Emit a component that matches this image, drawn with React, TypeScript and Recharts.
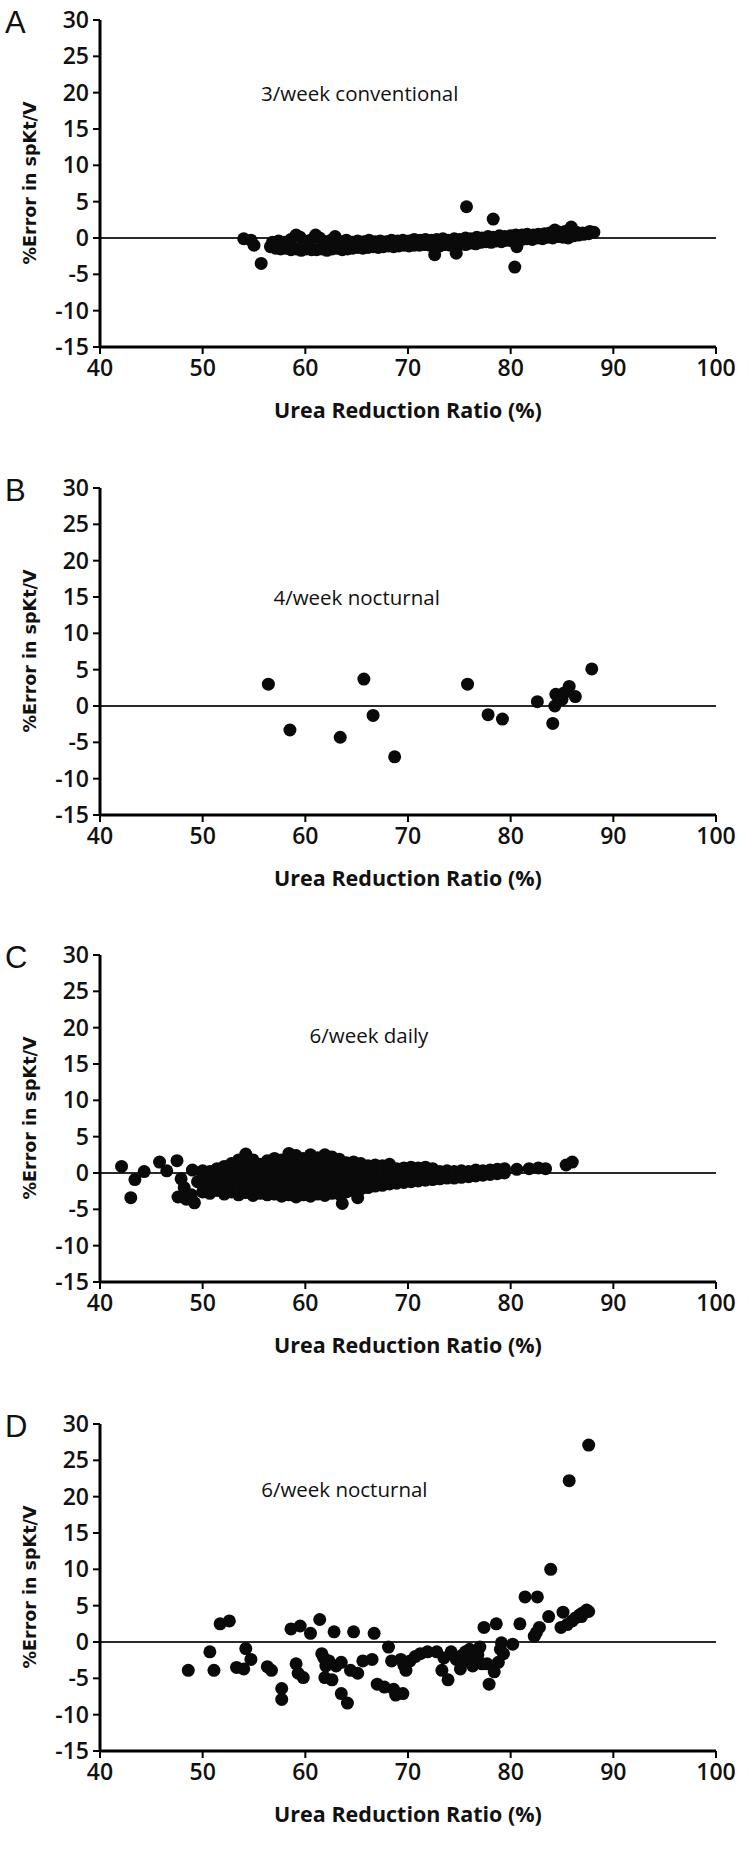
import React from "react";
import {
  ScatterChart,
  Scatter,
  XAxis,
  YAxis,
  ReferenceLine,
  ReferenceDot,
  Label,
} from "recharts";

// axis ticks shared by all four panels
const xTicks = [40, 50, 60, 70, 80, 90, 100];
const yTicks = [-15, -10, -5, 0, 5, 10, 15, 20, 25, 30];

// A: 3/week conventional  [URR %, % error]
const conv3Points: [number, number][] = [
  [54.0, -0.1], [54.7, -0.3], [55.0, -1.0], [55.7, -3.5], [75.7, 4.3], [78.3, 2.6],
  [80.4, -4.0], [72.6, -2.3], [74.7, -2.1],
  [56.6, -1.2], [57.1, -1.4], [57.6, -1.5], [58.1, -1.4], [58.6, -1.6], [59.1, -1.5],
  [59.6, -1.7], [60.1, -1.5], [60.6, -1.6], [61.1, -1.6], [61.6, -1.5], [62.1, -1.7],
  [62.6, -1.5], [63.1, -1.4], [63.6, -1.6], [64.1, -1.5], [64.6, -1.4], [65.1, -1.3],
  [65.6, -1.4], [66.1, -1.3], [66.6, -1.2], [67.1, -1.3], [67.6, -1.2], [68.1, -1.1],
  [68.6, -1.2], [69.1, -1.1], [69.6, -1.0], [70.1, -1.1], [70.6, -1.0], [71.1, -1.0],
  [71.6, -0.9], [72.1, -1.0], [73.1, -1.1], [73.6, -0.9], [74.1, -1.0], [75.1, -0.8],
  [75.6, -0.9], [76.1, -0.7], [76.6, -0.8], [77.1, -0.6], [77.6, -0.5], [78.1, -0.6],
  [78.6, -0.4], [79.1, -0.5], [79.6, -0.3], [80.1, -0.4], [80.6, -1.2], [81.1, -0.2],
  [81.6, -0.1], [82.1, -0.2], [82.6, 0.0], [83.1, -0.1], [83.6, 0.1], [84.1, 0.0],
  [84.6, 0.2], [85.1, 0.1], [85.6, 0.0], [86.1, 0.3], [86.6, 0.4], [87.1, 0.5], [87.6, 0.6],
  [56.8, -0.6], [57.4, -0.4], [58.0, -0.6], [58.6, -0.2], [59.1, 0.4], [59.5, 0.1],
  [60.0, -0.5], [60.5, -0.3], [61.0, 0.4], [61.4, 0.0], [62.0, -0.5], [62.5, -0.3],
  [62.9, 0.2], [63.5, -0.5], [64.0, -0.3], [64.6, -0.6], [65.1, -0.4], [65.7, -0.5],
  [66.2, -0.3], [66.8, -0.5], [67.3, -0.4], [67.9, -0.5], [68.4, -0.3], [69.0, -0.4],
  [69.5, -0.3], [70.1, -0.4], [70.6, -0.2], [71.2, -0.3], [71.7, -0.2], [72.3, -0.3],
  [72.8, -0.2], [73.4, -0.1], [73.9, -0.3], [74.5, -0.1], [75.0, -0.2], [75.6, 0.0],
  [76.1, -0.1], [76.7, 0.1], [77.2, 0.0], [77.8, 0.2], [78.3, 0.1], [78.9, 0.3],
  [79.4, 0.2], [80.0, 0.3], [80.5, 0.4], [81.1, 0.4], [81.6, 0.5], [82.2, 0.4],
  [82.7, 0.5], [83.3, 0.6], [83.8, 0.7], [84.3, 1.1], [84.8, 0.8], [85.3, 0.9],
  [85.9, 1.5], [86.4, 0.8], [87.0, 0.7], [87.7, 0.9], [88.1, 0.8],
];

// B: 4/week nocturnal
const noct4Points: [number, number][] = [
  [56.4, 3.0], [58.5, -3.3], [63.4, -4.3], [65.7, 3.7], [66.6, -1.3], [68.7, -7.0],
  [75.8, 3.0], [77.8, -1.2], [79.2, -1.8], [82.6, 0.6], [84.1, -2.4], [84.3, 0.0],
  [84.4, 1.6], [85.0, 0.9], [85.2, 1.8], [85.7, 2.7], [86.3, 1.3], [87.9, 5.1],
];

// C: 6/week daily
const daily6Points: [number, number][] = [
  [42.1, 0.9], [43.0, -3.4], [43.4, -0.9], [44.3, 0.2], [45.8, 1.5], [46.5, 0.3],
  [47.5, 1.7], [47.6, -3.3], [47.9, -0.8], [48.2, -2.0], [48.4, -3.6], [48.9, -3.0],
  [49.2, -4.1], [49.0, 0.4], [49.5, -1.2],
  [50.0, -2.6], [50.0, -1.6], [50.0, -0.6], [50.0, 0.3],
  [50.7, -2.8], [50.7, -1.8], [50.7, -0.8], [50.7, 0.2],
  [51.4, -2.4], [51.4, -1.4], [51.4, -0.4], [51.4, 0.6],
  [52.1, -2.9], [52.1, -1.9], [52.1, -0.9], [52.1, 0.1], [52.1, 0.9],
  [52.8, -2.6], [52.8, -1.6], [52.8, -0.6], [52.8, 0.4], [52.8, 1.3],
  [53.5, -3.0], [53.5, -2.0], [53.5, -1.0], [53.5, 0.0], [53.5, 1.0], [53.5, 1.8],
  [54.2, -2.7], [54.2, -1.7], [54.2, -0.7], [54.2, 0.3], [54.2, 1.3], [54.2, 2.6],
  [54.9, -3.1], [54.9, -2.1], [54.9, -1.1], [54.9, -0.1], [54.9, 0.9], [54.9, 1.8],
  [55.6, -2.8], [55.6, -1.8], [55.6, -0.8], [55.6, 0.2], [55.6, 1.2],
  [56.3, -3.0], [56.3, -2.0], [56.3, -1.0], [56.3, 0.0], [56.3, 1.0], [56.3, 1.7],
  [57.0, -2.9], [57.0, -1.9], [57.0, -0.9], [57.0, 0.1], [57.0, 1.1], [57.0, 2.0],
  [57.7, -3.2], [57.7, -2.2], [57.7, -1.2], [57.7, -0.2], [57.7, 0.8], [57.7, 1.8],
  [58.4, -3.0], [58.4, -2.0], [58.4, -1.0], [58.4, 0.0], [58.4, 1.0], [58.4, 2.0], [58.4, 2.7],
  [59.1, -3.3], [59.1, -2.3], [59.1, -1.3], [59.1, -0.3], [59.1, 0.7], [59.1, 1.7], [59.1, 2.4],
  [59.8, -3.0], [59.8, -2.0], [59.8, -1.0], [59.8, 0.0], [59.8, 1.0], [59.8, 2.0],
  [60.5, -3.2], [60.5, -2.2], [60.5, -1.2], [60.5, -0.2], [60.5, 0.8], [60.5, 1.8], [60.5, 2.5],
  [61.2, -2.9], [61.2, -1.9], [61.2, -0.9], [61.2, 0.1], [61.2, 1.1], [61.2, 2.1],
  [61.9, -3.1], [61.9, -2.1], [61.9, -1.1], [61.9, -0.1], [61.9, 0.9], [61.9, 1.9], [61.9, 2.5],
  [62.6, -2.8], [62.6, -1.8], [62.6, -0.8], [62.6, 0.2], [62.6, 1.2], [62.6, 2.2],
  [63.3, -2.9], [63.3, -1.9], [63.3, -0.9], [63.3, 0.1], [63.3, 1.1], [63.3, 1.9],
  [63.6, -4.2], [65.1, -3.4],
  [64.0, -2.6], [64.0, -1.6], [64.0, -0.6], [64.0, 0.4], [64.0, 1.4],
  [64.7, -2.4], [64.7, -1.4], [64.7, -0.4], [64.7, 0.6], [64.7, 1.5],
  [65.4, -2.2], [65.4, -1.2], [65.4, -0.2], [65.4, 0.8], [65.4, 1.3],
  [66.1, -2.0], [66.1, -1.0], [66.1, 0.0], [66.1, 1.0],
  [66.8, -1.8], [66.8, -0.8], [66.8, 0.2], [66.8, 1.1],
  [67.5, -1.7], [67.5, -0.7], [67.5, 0.3], [67.5, 1.0],
  [68.2, -1.5], [68.2, -0.5], [68.2, 0.5], [68.2, 1.2],
  [68.9, -1.4], [68.9, -0.4], [68.9, 0.6],
  [69.6, -1.3], [69.6, -0.3], [69.6, 0.7],
  [70.3, -1.2], [70.3, -0.2], [70.3, 0.8],
  [71.0, -1.1], [71.0, -0.1], [71.0, 0.7],
  [71.7, -1.0], [71.7, 0.0], [71.7, 0.8],
  [72.4, -0.9], [72.4, 0.1], [72.4, 0.6],
  [73.1, -0.8], [73.1, 0.2], [73.8, -0.7], [73.8, 0.3], [74.5, -0.7], [74.5, 0.2],
  [75.2, -0.6], [75.2, 0.3], [75.9, -0.5], [75.9, 0.2], [76.6, -0.4], [76.6, 0.4],
  [77.3, -0.3], [77.3, 0.3], [78.0, -0.2], [78.0, 0.4], [78.7, -0.1], [78.7, 0.5],
  [79.4, 0.0], [79.4, 0.6],
  [80.6, 0.5], [81.8, 0.6], [82.7, 0.7], [83.4, 0.6], [85.4, 1.1], [86.0, 1.5],
];

// D: 6/week nocturnal
const noct6Points: [number, number][] = [
  [48.6, -3.9], [50.7, -1.35], [51.1, -3.9], [51.7, 2.5], [52.6, 2.9], [53.3, -3.5],
  [54.0, -3.7], [54.2, -0.9], [54.7, -2.4], [56.3, -3.4], [56.7, -3.9], [57.7, -6.4],
  [57.7, -7.9], [58.6, 1.8], [59.1, -3.0], [59.5, 2.2], [59.3, -4.3], [59.8, -4.9],
  [60.5, 1.2], [61.4, 3.1], [61.6, -1.6], [61.8, -2.2], [62.1, -2.9], [61.9, -4.9],
  [62.0, -3.3], [62.3, -2.6], [62.6, -5.2], [62.8, 1.4], [63.0, -3.3], [63.5, -2.8],
  [63.5, -7.1], [64.1, -8.4], [64.4, -3.9], [64.7, 1.4], [65.1, -4.3], [65.6, -2.6],
  [66.5, -2.4], [66.7, 1.2], [67.0, -5.8], [67.7, -6.2], [68.1, -0.7], [68.4, -2.6],
  [68.6, -6.5], [68.8, -7.3], [69.3, -2.4], [69.5, -7.1], [69.6, -3.2], [69.8, -3.9],
  [70.2, -2.6], [70.7, -2.0], [71.2, -1.6], [71.9, -1.35], [72.8, -1.35], [73.3, -3.9],
  [73.5, -2.2], [73.9, -5.2], [74.2, -1.35], [74.7, -2.4], [75.1, -3.7], [75.3, -1.8],
  [75.6, -1.35], [75.8, -2.6], [76.0, -1.0], [76.3, -3.3], [76.5, -1.35], [76.8, -1.8],
  [77.0, -0.7], [77.2, -3.0], [77.4, 2.0], [77.7, -3.0], [77.9, -5.8], [78.4, -4.1],
  [78.6, 2.5], [78.8, -2.8], [79.0, -1.0], [79.1, -0.1], [79.3, -1.6], [80.2, -0.3],
  [80.9, 2.5], [81.4, 6.2], [82.6, 6.2], [82.3, 0.8], [82.5, 1.3], [82.8, 2.0],
  [83.7, 3.5], [83.9, 10.0], [84.9, 2.0], [85.1, 4.1], [85.5, 2.4], [85.7, 22.2],
  [86.0, 2.9], [86.3, 3.3], [86.7, 3.7], [86.9, 3.5], [87.0, 4.0], [87.4, 4.4],
  [87.6, 4.2], [87.6, 27.1],
];

const panels = [
  { letter: "A", title: "3/week conventional", titleX: 65.3, titleY: 20, points: conv3Points },
  { letter: "B", title: "4/week nocturnal", titleX: 65.0, titleY: 15, points: noct4Points },
  { letter: "C", title: "6/week daily", titleX: 66.2, titleY: 19, points: daily6Points },
  { letter: "D", title: "6/week nocturnal", titleX: 63.8, titleY: 21, points: noct6Points },
];

const PANEL_TOPS = [0, 468, 935, 1404];
const TEXT_FONT = "'Open Sans', Lato, sans-serif";

const Dot = (props: any) => (
  <circle cx={props.cx} cy={props.cy} r={6.5} fill="#0a0a0a" />
);

// rotated y title, centred on the plot (top 20, height 327)
const YTitle = () => {
  const cx = 30;
  const cy = 183;
  return (
    <text
      x={cx}
      y={cy}
      transform={`rotate(-90 ${cx} ${cy})`}
      textAnchor="middle"
      dominantBaseline="central"
      fill="#111"
      style={{ fontFamily: "'DejaVu Sans', sans-serif", fontWeight: 700, fontSize: 17.5 }}
    >
      %Error in spKt/V
    </text>
  );
};

const XTitle = (props: any) => {
  const vb = props.viewBox;
  return (
    <text
      x={vb.x + vb.width / 2}
      y={vb.y + 71}
      textAnchor="middle"
      fill="#111"
      style={{ fontFamily: TEXT_FONT, fontWeight: 700, fontSize: 21.5 }}
    >
      Urea Reduction Ratio (%)
    </text>
  );
};

const Panel = ({ panel }: { panel: (typeof panels)[number] }) => {
  const data = panel.points.map(([x, y]) => ({ x, y }));
  const SubTitle = (props: any) => {
    const vb = props.viewBox;
    return (
      <text
        x={vb.x + vb.width / 2}
        y={vb.y + vb.height / 2}
        textAnchor="middle"
        dominantBaseline="central"
        fill="#111"
        style={{ fontFamily: TEXT_FONT, fontSize: 20.5 }}
      >
        {panel.title}
      </text>
    );
  };
  return (
    <ScatterChart width={749} height={467} margin={{ top: 20, right: 33, bottom: 0, left: 0 }}>
      <XAxis
        type="number"
        dataKey="x"
        domain={[40, 100]}
        ticks={xTicks}
        height={120}
        interval={0}
        tickSize={7}
        tickMargin={6}
        axisLine={{ stroke: "#000", strokeWidth: 3 }}
        tickLine={{ stroke: "#000", strokeWidth: 2 }}
        tick={{ fontSize: 23, fontFamily: TEXT_FONT, fontWeight: 600, fill: "#111" }}
      >
        <Label content={XTitle} />
      </XAxis>
      <YAxis
        type="number"
        dataKey="y"
        domain={[-15, 30]}
        ticks={yTicks}
        width={100}
        interval={0}
        tickSize={7}
        tickMargin={4}
        axisLine={{ stroke: "#000", strokeWidth: 3 }}
        tickLine={{ stroke: "#000", strokeWidth: 2 }}
        tick={{ fontSize: 23, fontFamily: TEXT_FONT, fontWeight: 600, fill: "#111" }}
      >
        <Label content={YTitle} />
      </YAxis>
      <ReferenceLine y={0} stroke="#2a2a2a" strokeWidth={2.2} />
      <ReferenceDot
        x={panel.titleX}
        y={panel.titleY}
        r={1}
        fill="none"
        stroke="none"
        label={<SubTitle />}
      />
      <Scatter data={data} shape={Dot} isAnimationActive={false} />
    </ScatterChart>
  );
};

export default function App() {
  return (
    <div
      style={{
        position: "absolute",
        left: 0,
        top: 0,
        width: 749,
        height: 1861,
        background: "#fff",
        overflow: "hidden",
      }}
    >
      {panels.map((p, i) => (
        <div key={p.letter} style={{ position: "absolute", left: 0, top: PANEL_TOPS[i] }}>
          <Panel panel={p} />
          <div
            style={{
              position: "absolute",
              left: 5,
              top: 7,
              fontFamily: "'Liberation Sans', Arial, sans-serif",
              fontSize: 31,
              lineHeight: "31px",
              color: "#111",
            }}
          >
            {p.letter}
          </div>
        </div>
      ))}
    </div>
  );
}
